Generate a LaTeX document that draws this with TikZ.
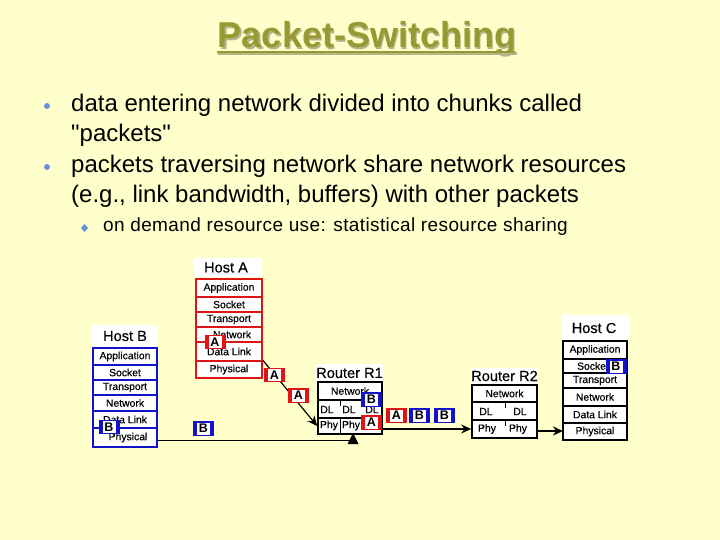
\documentclass[tikz,border=0pt]{standalone}
\usepackage{fontspec}
\setmainfont{Liberation Sans}[Ligatures=TeXOff]
\newfontfamily\heavyfont{Liberation Sans}[FakeBold=0.35]
\usetikzlibrary{arrows.meta}
\definecolor{bg}{HTML}{FFFFCC}
\definecolor{olive}{HTML}{999933}
\definecolor{oliveshadow}{HTML}{B5B58C}
\definecolor{bul}{HTML}{6F8FDD}
\definecolor{rd}{HTML}{DD1515}
\definecolor{bl}{HTML}{1212CC}
\newcommand{\fsz}[1]{\fontsize{#1}{#1}\selectfont}
\tikzset{
  x=1pt,y=-1pt,
  body/.style={anchor=base west,inner sep=0pt,font=\fsz{24}},
  subtxt/.style={anchor=base west,inner sep=0pt,font=\fsz{19}\addfontfeature{LetterSpace=2}},
  layer/.style={draw=#1,line width=1.6pt,fill=white,inner sep=0pt,font=\heavyfont\fsz{10.4}},
  hcap/.style={fill=white,inner sep=0pt,font=\heavyfont\fsz{14.6}},
  wire/.style={draw=black,line width=1.2pt},
  arr/.style={wire,-{Stealth[length=10pt,width=9pt]}},
  pkt/.style={fill=#1,inner sep=0pt,minimum width=21pt,minimum height=14.5pt},
  pktin/.style={fill=white,inner sep=0pt,minimum width=13pt,minimum height=12pt,font=\bfseries\fsz{12.5}},
  lone/.style={inner sep=0pt,font=\heavyfont\fsz{10.4}},
  tickln/.style={draw=black,line width=1pt},
}
% name, colour, x1, y1, x2, y2, text
\newcommand{\rw}[7]{\node[layer=#2,minimum width=#5pt-#3pt,minimum height=#6pt-#4pt] (#1) at ({(#3+#5)/2},{(#4+#6)/2}) {#7};}
% name, colour, centre x, centre y, letter
\newcommand{\pk}[5]{\node[pkt=#2] (#1) at (#3,#4) {}; \node[pktin] (#1t) at (#1.center) {\textcolor{black}{#5}};}
\begin{document}
\begin{tikzpicture}
\useasboundingbox (0,0) rectangle (720,540);
\fill[bg] (0,0) rectangle (720,540);

% title
\node[anchor=base,inner sep=0pt,font=\bfseries\fsz{36},text=oliveshadow] (titleshadow) at (368.5,49.5) {Packet-Switching};
\node[anchor=base,inner sep=0pt,font=\bfseries\fsz{36},text=olive] (title) at (367,48) {Packet-Switching};
\fill[oliveshadow] (218,52.5) rectangle (517,55);
\fill[olive] (217,51) rectangle (515,53.5);

% bullets
\fill[bul] (47,106) circle (3);
\fill[bul] (47,167) circle (3);
\fill[bul] (84.5,224) -- (88,228) -- (84.5,232) -- (81,228) -- cycle;
\node[body] (t1) at (71,112) {data entering network divided into chunks called};
\node[body] (t2) at (71,142) {"packets"};
\node[body] (t3) at (71,173) {packets traversing network share network resources};
\node[body] (t4) at (71,202.5) {(e.g., link bandwidth, buffers) with other packets};
\node[subtxt] (t5) at (103,232) {on demand resource use: statistical resource sharing};

% Host A
\node[hcap,minimum width=68pt,minimum height=19pt] (hAc) at (228,267.5) {\hspace*{-4pt}Host A};
\rw{a1}{rd}{196}{279}{262}{297}{Application}
\rw{a2}{rd}{196}{297}{262}{312}{Socket}
\rw{a3}{rd}{196}{312}{262}{327}{Transport}
\rw{a4}{rd}{196}{327}{262}{342}{\hspace*{6pt}Network}
\rw{a5}{rd}{196}{342}{262}{361}{Data Link}
\rw{a6}{rd}{196}{361}{262}{378}{Physical}

% Host B
\node[hcap,minimum width=66pt,minimum height=22pt] (hBc) at (125,336) {Host B};
\rw{b1}{bl}{93}{348}{157}{365}{Application}
\rw{b2}{bl}{93}{365}{157}{380}{Socket}
\rw{b3}{bl}{93}{380}{157}{395}{Transport}
\rw{b4}{bl}{93}{395}{157}{411}{Network}
\rw{b5}{bl}{93}{411}{157}{428}{Data Link}
\rw{b6}{bl}{93}{428}{157}{447}{\hspace*{6pt}Physical}

% Router R1
\node[hcap,minimum width=65pt,minimum height=19pt] (r1c) at (349.5,373) {Router R1};
\rw{r1n}{black}{318}{382}{382}{400}{Network}
\rw{r1d}{black}{318}{400}{382}{418}{}
\rw{r1p}{black}{318}{418}{382}{434}{}
\node[lone] (r1d1) at (327,409.5) {DL};
\node[lone] (r1d2) at (349,409.5) {DL};
\node[lone] (r1d3) at (372,409.5) {DL};
\node[lone] (r1p1) at (329,425.5) {Phy};
\node[lone] (r1p2) at (351,425.5) {Phy};
\coordinate (r1t1) at (340,400); \coordinate (r1t2) at (340,406);
\coordinate (r1t3) at (340,418); \coordinate (r1t4) at (340,434);
\draw[tickln] (r1t1) -- (r1t2);
\draw[tickln] (r1t3) -- (r1t4);

% Router R2
\node[hcap,minimum width=65pt,minimum height=17pt] (r2c) at (504.5,376) {Router R2};
\rw{r2n}{black}{472}{385}{537}{402}{Network}
\rw{r2d}{black}{472}{402}{537}{420}{}
\rw{r2p}{black}{472}{420}{537}{438}{}
\node[lone] (r2d1) at (486,411.5) {DL};
\node[lone] (r2d2) at (520,411.5) {DL};
\node[lone] (r2p1) at (487,429) {Phy};
\node[lone] (r2p2) at (518,429) {Phy};
\coordinate (r2t1) at (505,402); \coordinate (r2t2) at (505,408);
\coordinate (r2t3) at (505,420); \coordinate (r2t4) at (505,426);
\draw[tickln] (r2t1) -- (r2t2);
\draw[tickln] (r2t3) -- (r2t4);

% Host C
\node[hcap,minimum width=68pt,minimum height=26pt] (hCc) at (596,328) {\hspace*{-4pt}\raisebox{-1pt}{Host C}};
\rw{c1}{black}{563}{341}{627}{359}{Application}
\rw{c2}{black}{563}{359}{627}{373}{\hspace*{-4pt}Socket}
\rw{c3}{black}{563}{373}{627}{388}{Transport}
\rw{c4}{black}{563}{388}{627}{406}{Network}
\rw{c5}{black}{563}{406}{627}{423}{Data Link}
\rw{c6}{black}{563}{423}{627}{440}{Physical}

% packets in the network
\pk{pa0}{rd}{215}{342}{A}
\pk{pb0}{bl}{109}{427}{B}
\pk{pb1}{bl}{203.5}{428.5}{B}
\coordinate (bstart) at (157,440.5);
\coordinate (bend) at (353,440.5);
\coordinate (apex) at (353,433);
\coordinate (bl1) at (347.5,444);
\coordinate (br1) at (358.5,444);
\draw[wire] (bstart) -- (bend);
\fill (apex) -- (br1) -- (bl1) -- cycle;

\coordinate (r1out) at (382,429);
\coordinate (r2out) at (537,431);
\coordinate (cin) at (563,431);
\draw[arr] (a6.north east) -- (r1p.west);
\draw[arr] (r1out) -- (r2p.west);
\draw[arr,line width=1.8pt] (r2out) -- (cin);

\pk{pa1}{rd}{274.5}{375}{A}
\pk{pa2}{rd}{298.5}{395.5}{A}
\pk{pb2}{bl}{371.5}{399.5}{B}
\pk{pa3}{rd}{371.5}{422.5}{A}
\pk{pa4}{rd}{396.5}{415.5}{A}
\pk{pb3}{bl}{419.5}{415.5}{B}
\pk{pb4}{bl}{444.5}{415.5}{B}
\pk{pb5}{bl}{616}{366.5}{B}
\end{tikzpicture}
\end{document}
